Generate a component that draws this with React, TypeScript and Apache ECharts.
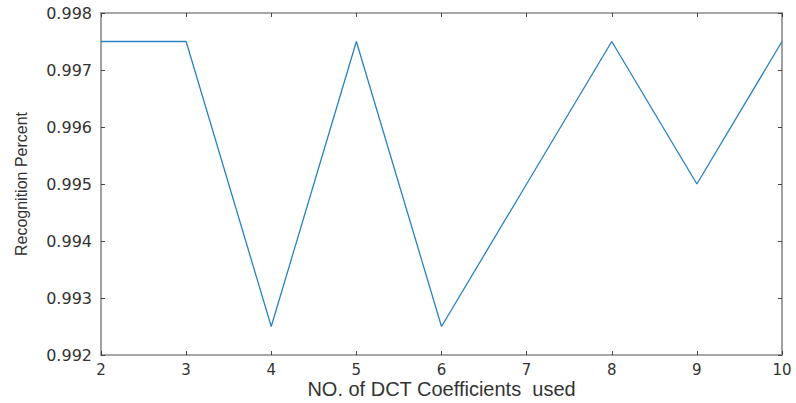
import React, { useEffect, useRef } from "react";
import * as echarts from "echarts";

const xValues = [2, 3, 4, 5, 6, 7, 8, 9, 10];
const recognition = [0.9975, 0.9975, 0.9925, 0.9975, 0.9925, 0.995, 0.9975, 0.995, 0.9975];
const xAxisTitle = "NO. of DCT Coefficients  used";
const yAxisTitle = "Recognition Percent";

export default function App() {
  const ref = useRef<HTMLDivElement>(null);
  useEffect(() => {
    const chart = echarts.init(ref.current!, null, { renderer: "svg" });
    const axisColor = "#8a8a8a";
    const textColor = "#333333";
    const font = "Liberation Sans, Arial, sans-serif";
    const tickFont = "DejaVu Sans, sans-serif";
    const baseX = {
      type: "value" as const,
      min: 2,
      max: 10,
      interval: 1,
      splitLine: { show: false },
      axisLine: { show: true, onZero: false, lineStyle: { color: axisColor, width: 1.6 } },
      axisTick: { show: true, inside: true, length: 4, lineStyle: { color: "#444" } },
    };
    const baseY = {
      type: "value" as const,
      min: 0.992,
      max: 0.998,
      interval: 0.001,
      splitLine: { show: false },
      axisLine: { show: true, onZero: false, lineStyle: { color: axisColor, width: 1.6 } },
      axisTick: { show: true, inside: true, length: 4, lineStyle: { color: "#444" } },
    };
    chart.setOption({
      animation: false,
      backgroundColor: "#ffffff",
      grid: { left: 101, right: 14, top: 13, bottom: 48, outerBoundsMode: "none", containLabel: false },
      xAxis: [
        {
          ...baseX,
          position: "bottom",
          name: xAxisTitle,
          nameLocation: "middle",
          nameMoveOverlap: false,
          nameGap: 24,
          nameTextStyle: { color: textColor, fontSize: 20, fontFamily: font, lineHeight: 20 },
          axisLabel: { color: textColor, fontSize: 15, fontFamily: tickFont, margin: 6, lineHeight: 17 },
        },
        { ...baseX, position: "top", axisLabel: { show: false } },
      ],
      yAxis: [
        {
          ...baseY,
          position: "left",
          name: yAxisTitle,
          nameLocation: "middle",
          nameMoveOverlap: false,
          nameGap: 72,
          nameTextStyle: { color: textColor, fontSize: 16, fontFamily: font },
          axisLabel: {
            color: textColor,
            fontSize: 16,
            fontFamily: tickFont,
            margin: 9,
            formatter: (v: number) => v.toFixed(3),
          },
        },
        { ...baseY, position: "right", axisLabel: { show: false } },
      ],
      series: [
        {
          type: "line",
          data: xValues.map((x, i) => [x, recognition[i]]),
          showSymbol: false,
          lineStyle: { color: "#2a82c0", width: 1.3 },
          itemStyle: { color: "#2a82c0" },
        },
      ],
    });
    return () => chart.dispose();
  }, []);
  return (
    <div
      ref={ref}
      style={{ position: "fixed", left: 0, top: 0, width: 796, height: 403 }}
    />
  );
}
